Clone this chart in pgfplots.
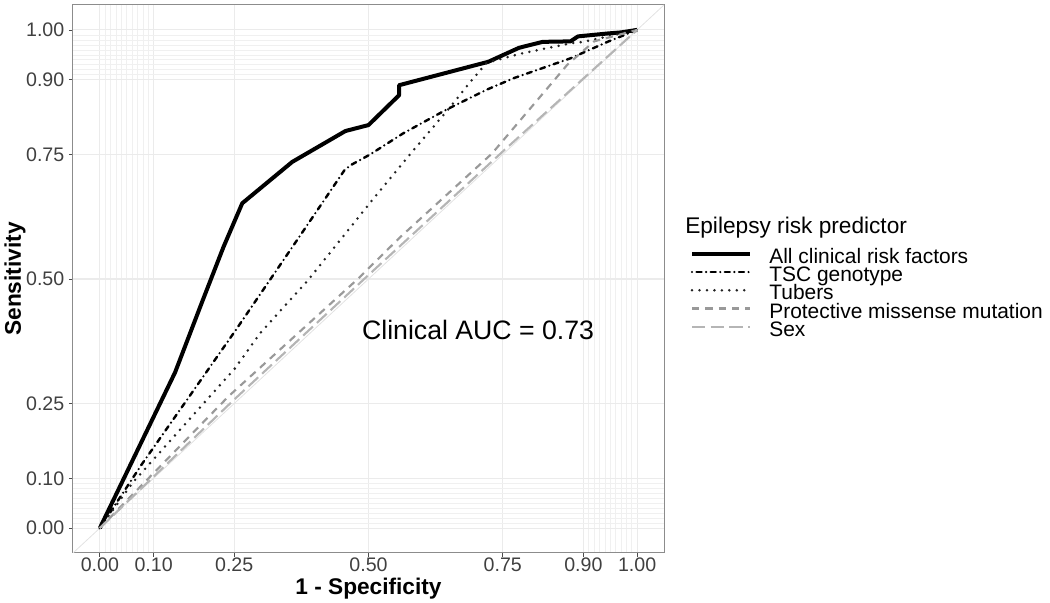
\documentclass[border=0pt]{standalone}
\usepackage{fontspec}
\setmainfont{Liberation Sans}
\usepackage{pgfplots}
\pgfplotsset{compat=1.18}
\definecolor{gridc}{HTML}{EBEBEB}
\definecolor{diagc}{HTML}{E2E2E2}
\definecolor{protc}{HTML}{999999}
\definecolor{sexc}{HTML}{B5B5B5}
\definecolor{tubc}{HTML}{222222}
\begin{document}
\begin{tikzpicture}
\useasboundingbox (-54.75pt,-37.5pt) rectangle (732.75pt,414.75pt);
\begin{axis}[
  scale only axis, width=443.25pt, height=411pt,
  xmin=-0.05, xmax=1.05, ymin=-0.05, ymax=1.05,
  xtick={0,0.1,0.25,0.5,0.75,0.9,1},
  ytick={0,0.1,0.25,0.5,0.75,0.9,1},
  minor xtick={0.01,0.02,0.03,0.04,0.05,0.06,0.07,0.08,0.09,0.91,0.92,0.93,0.94,0.95,0.96,0.97,0.98,0.99},
  minor ytick={0.01,0.02,0.03,0.04,0.05,0.06,0.07,0.08,0.09,0.91,0.92,0.93,0.94,0.95,0.96,0.97,0.98,0.99},
  grid=both,
  major grid style={gridc, line width=0.8pt},
  minor grid style={gridc!75, line width=0.45pt},
  tick align=outside, tick pos=left,
  major tick length=3pt, minor tick length=0pt,
  every tick/.style={black!70, line width=0.6pt},
  axis line style={black!45, line width=0.75pt},
  tick label style={font=\fontsize{14.7}{16}\selectfont, text=black!75},
  xticklabel style={inner sep=1pt, yshift=0.8pt},
  /pgf/number format/fixed, /pgf/number format/fixed zerofill,
  /pgf/number format/precision=2, /pgf/number format/assume math mode=true,
  xlabel={1 - Specificity}, ylabel={Sensitivity},
  label style={font=\fontsize{17}{20}\selectfont\bfseries},
  xlabel style={at={(axis description cs:0.5,-0.0645)}, anchor=center, inner sep=0pt},
  ylabel style={at={(axis description cs:-0.098,0.5)}, anchor=center, inner sep=0pt},
  legend cell align=left,
  legend style={at={(axis description cs:1.044,0.553)}, anchor=north west,
    draw=none, fill=none, inner sep=0pt, outer sep=0pt, row sep=0pt,
    font=\fontsize{15.7}{16}\selectfont,
    nodes={inner sep=0pt, text height=10pt, text depth=3.7pt}},
  legend image code/.code={\draw[#1] (0pt,4pt) -- (43.5pt,4pt); \path (0pt,0pt) (56.5pt,0pt);},
]
\addplot[diagc, line width=0.6pt, forget plot] coordinates {(-0.05,-0.05) (1.05,1.05)};

\addplot[black, line width=3pt, line join=round] coordinates {
(0,0) (0.14,0.3125) (0.191,0.456) (0.23,0.564) (0.265,0.652) (0.358,0.735)
(0.457,0.797) (0.5,0.809) (0.557,0.869) (0.557,0.889) (0.723,0.936) (0.78,0.964)
(0.824,0.976) (0.876,0.977) (0.89,0.987) (0.947,0.993) (0.97,0.995) (1,1)};
\addlegendentry{All clinical risk factors}

\addplot[black, line width=1.8pt, line cap=round, dash pattern=on 0pt off 3.4pt on 3.8pt off 3.4pt] coordinates {
(0,0) (0.078,0.128) (0.156,0.248) (0.252,0.396) (0.379,0.597) (0.455,0.718)
(0.466,0.728) (0.503,0.75) (0.564,0.792) (0.645,0.84) (0.72,0.88) (0.77,0.903)
(0.876,0.943) (0.947,0.977) (1,1)};
\addlegendentry{TSC genotype}

\addplot[tubc, line width=2.1pt, line cap=round, dash pattern=on 0pt off 5.6pt] coordinates {
(0,0) (0.061,0.091) (0.168,0.22) (0.251,0.32) (0.298,0.391) (0.387,0.497)
(0.503,0.653) (0.577,0.75) (0.652,0.845) (0.689,0.895) (0.72,0.934)
(0.782,0.952) (0.876,0.973) (0.9,0.976) (1,1)};
\addlegendentry{Tubers}

\addplot[protc, line width=1.6pt, dash pattern=on 5.5pt off 4.5pt] coordinates {
(0,0) (0.24,0.265) (0.48,0.5) (0.56,0.585) (0.73,0.752) (0.87,0.93)
(0.92,0.977) (1,1)};
\addlegendentry{Protective missense mutation}

\addplot[sexc, line width=1.6pt, dash pattern=on 10pt off 4pt] coordinates {
(0,0) (0.25,0.258) (0.5,0.508) (0.75,0.756) (1,1)};
\addlegendentry{Sex}

\node[font=\fontsize{20}{24}\selectfont] at (axis cs:0.704,0.397) {Clinical AUC = 0.73};
\end{axis}
\node[anchor=west, font=\fontsize{17}{20}\selectfont, inner sep=0pt] at (459pt,243.75pt) {Epilepsy risk predictor};
\end{tikzpicture}
\end{document}
